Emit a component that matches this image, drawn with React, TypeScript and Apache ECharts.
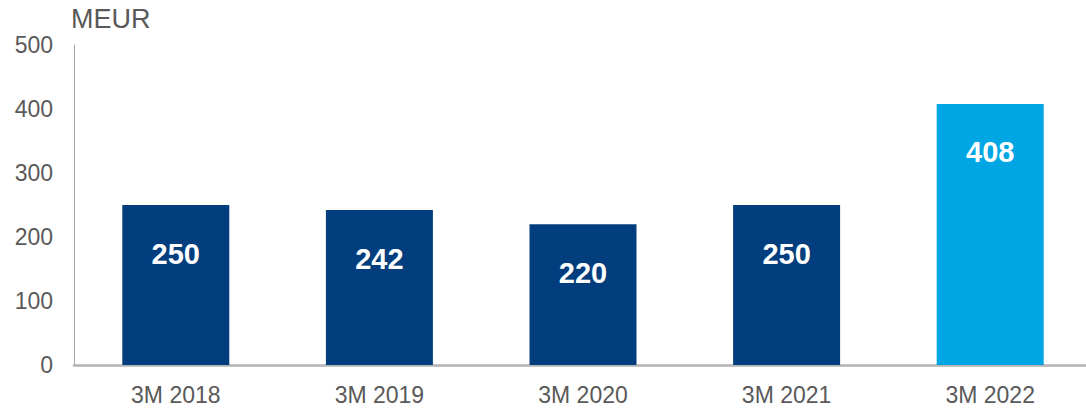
import React, { useEffect, useRef } from "react";
import * as echarts from "echarts";

const categories = ["3M 2018", "3M 2019", "3M 2020", "3M 2021", "3M 2022"];
const values = [250, 242, 220, 250, 408];
const barColors = ["#023e7d", "#023e7d", "#023e7d", "#023e7d", "#00a6e3"];
const unitLabel = "MEUR";

const FONT = "Liberation Sans, Arial, sans-serif";

export default function App() {
  const ref = useRef<HTMLDivElement>(null);
  useEffect(() => {
    const chart = echarts.init(ref.current!, null, { renderer: "svg" });
    chart.setOption({
      animation: false,
      textStyle: { fontFamily: FONT },
      graphic: [
        {
          type: "text",
          left: 71,
          top: 5,
          style: { text: unitLabel, fontSize: 27, fill: "#595959", fontFamily: FONT },
        },
      ],
      grid: { left: 74, top: 45, right: 0, height: 320, containLabel: false, outerBoundsMode: "none" },
      xAxis: {
        type: "category",
        data: categories,
        axisLine: { show: true, lineStyle: { color: "#b5b2b2", width: 2.5 } },
        axisTick: { show: false },
        axisLabel: { color: "#595959", fontSize: 23, margin: 18 },
      },
      yAxis: {
        type: "value",
        min: 0,
        max: 500,
        interval: 100,
        splitLine: { show: false },
        axisLine: { show: true, lineStyle: { color: "#a6a6a6", width: 1 } },
        axisTick: { show: false },
        axisLabel: { color: "#595959", fontSize: 23, margin: 21 },
      },
      series: [
        {
          type: "bar",
          barWidth: 107,
          data: values.map((v, i) => ({ value: v, itemStyle: { color: barColors[i] } })),
          label: {
            show: true,
            position: "insideTop",
            distance: 34,
            color: "#ffffff",
            fontSize: 29,
            fontWeight: "bold",
          },
        },
      ],
    });
    return () => chart.dispose();
  }, []);
  return (
    <div style={{ position: "absolute", left: 0, top: 0, width: 1086, height: 410, overflow: "hidden" }}>
      <div ref={ref} style={{ width: 1092, height: 410 }} />
    </div>
  );
}
